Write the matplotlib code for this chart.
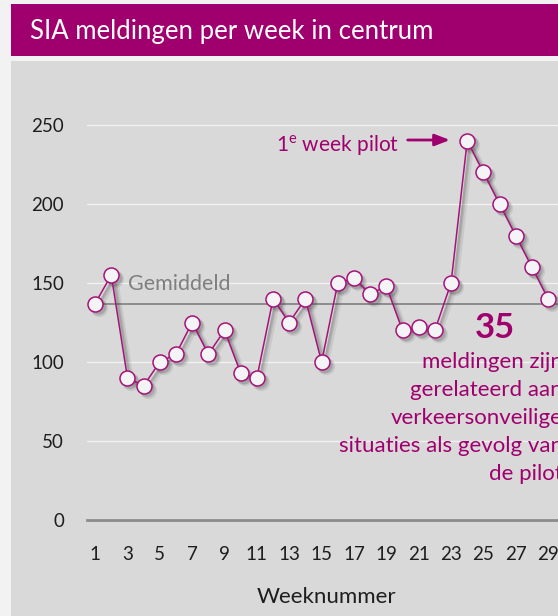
import matplotlib
matplotlib.use("Agg")
import matplotlib.pyplot as plt
import matplotlib.transforms as mtransforms
from matplotlib.patches import Rectangle

weeks = list(range(1, 30))
meldingen = [137, 155, 90, 85, 100, 105, 125, 105, 120, 93, 90, 140, 125, 140, 100,
             150, 153, 143, 148, 120, 122, 120, 150, 240, 220, 200, 180, 160, 140]
gemiddeld = 137
y_ticks = [0, 50, 100, 150, 200, 250]
x_ticks = list(range(1, 30, 2))
title = "SIA meldingen per week in centrum"
x_label = "Weeknummer"
pilot_label = "1$^{\\mathrm{e}}$ week pilot"
big_number = "35"
note = "meldingen zijn\ngerelateerd aan\nverkeersonveilige\nsituaties als gevolg van\nde pilot"

MAG = "#a0006e"
LINE = "#a5137a"
FONT = ["Lato", "DejaVu Sans"]
plt.rcParams["font.family"] = FONT
plt.rcParams["mathtext.fontset"] = "custom"
plt.rcParams["mathtext.rm"] = "Lato"

W, H = 558, 616
fig = plt.figure(figsize=(W / 100, H / 100), dpi=100)
fig.patch.set_facecolor("#f2f2f2")

def px(x, y):
    return x / W, 1 - y / H

# title bar and panel
fig.patches.append(Rectangle(px(11, 56), (W - 11) / W, 52 / H, transform=fig.transFigure,
                             facecolor=MAG, edgecolor="none", zorder=-5))
fig.patches.append(Rectangle(px(11, 616), (W - 11) / W, (616 - 61) / H, transform=fig.transFigure,
                             facecolor="#d9d9d9", edgecolor="none", zorder=-5))
fig.text(*px(30, 31), title, color="white", fontsize=18.5, va="center", ha="left")

# axes geometry: week spacing ~16.18 px, 0 at y=520, 250 at y=125
xmin, xmax = 0.5, 36
ppu_x = 16.18
ymax = 270
ppu_y = (520 - 125) / 250
left = 87
ax_w = (xmax - xmin) * ppu_x
ax_h = ymax * ppu_y
ax = fig.add_axes([left / W, (H - 520) / H, ax_w / W, ax_h / H])
ax.set_zorder(1)
ax.set_facecolor("none")
ax.set_xlim(xmin, xmax)
ax.set_ylim(0, ymax)
for s in ["top", "right", "left"]:
    ax.spines[s].set_visible(False)
ax.spines["bottom"].set_color("#8c8c8c")
ax.spines["bottom"].set_linewidth(2)
ax.spines["bottom"].set_zorder(1)

for yv in y_ticks[1:]:
    ax.axhline(yv, color="#f2f2f2", lw=1.0, zorder=1)
ax.set_yticks(y_ticks)
ax.set_xticks(x_ticks)
ax.tick_params(axis="both", length=0, labelsize=13.5, colors="#1e1e1e")
ax.tick_params(axis="y", pad=16.5)
ax.tick_params(axis="x", pad=19)
ax.set_xlabel(x_label, fontsize=16, color="#1e1e1e")
ax.xaxis.set_label_coords((326 - left) / ax_w, -(597 - 520) / ax_h)
ax.xaxis.label.set_va("center")

# average line
ax.axhline(gemiddeld, xmin=(1 - xmin) / (xmax - xmin), color="#808080", lw=1.2, zorder=2)
ax.text(3.05, 149.5, "Gemiddeld", color="#7f7f7f", fontsize=15.5, va="center", ha="left")

# shadows
for dx, dy, a, lw in [(4, -4, 0.10, 4), (3, -3, 0.14, 2.5), (2.5, -2.5, 0.14, 1.5)]:
    tr = mtransforms.offset_copy(ax.transData, fig=fig, x=dx, y=dy, units="dots")
    ax.plot(weeks, meldingen, color="#404040", lw=lw, alpha=a, transform=tr, zorder=2,
            marker="o", markersize=10.5 + lw * 0.5, markeredgewidth=0, solid_capstyle="round")

ax.plot(weeks, meldingen, color=LINE, lw=1.1, zorder=3, marker="o", markersize=10.8,
        markerfacecolor="#f4f4f6", markeredgecolor=LINE, markeredgewidth=1.1, clip_on=False)

# pilot annotation
ax.annotate("", xy=(23.1, 240.5), xytext=(20.15, 240.5),
            arrowprops=dict(arrowstyle="-|>,head_length=0.9,head_width=0.35", color=MAG, lw=2),
            zorder=4)
ax.text(19.8, 237, pilot_label, color=MAG, fontsize=15, ha="right", va="center")

fig.text(*px(495, 328), big_number, color=MAG, fontsize=25, fontweight="bold",
         ha="center", va="center", zorder=5)
fig.text(*px(563, 352), note, color=MAG, fontsize=16, ha="right", va="top",
         multialignment="right", linespacing=1.5, zorder=5)

fig.savefig("out.png", dpi=100, facecolor=fig.get_facecolor())
